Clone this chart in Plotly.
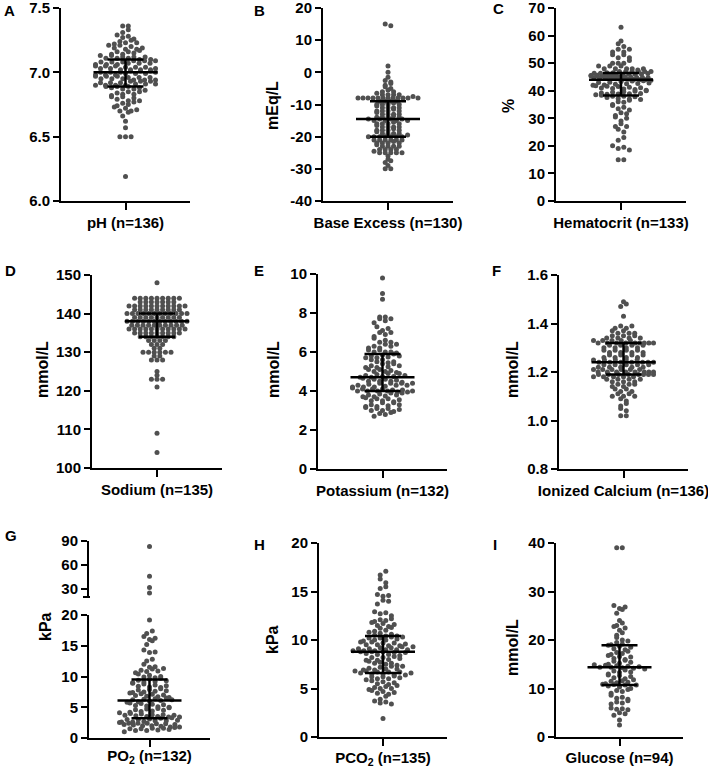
import math
import numpy as np
import plotly.graph_objects as go

W, H = 708, 767

# ---------------- data ----------------
ph_values = [7.36, 7.36, 7.33, 7.31,
             7.29, 7.28, 7.27, 7.26, 7.25,
             7.24, 7.23, 7.23, 7.22, 7.21, 7.21, 7.20,
             7.19, 7.19, 7.18, 7.18, 7.17, 7.16, 7.16, 7.15,
             7.14, 7.14, 7.13, 7.13, 7.12, 7.12, 7.12, 7.11, 7.11, 7.11,
             7.10, 7.10, 7.09, 7.09, 7.09, 7.08, 7.08, 7.08, 7.07, 7.07, 7.07, 7.06, 7.06, 7.06, 7.05, 7.05, 7.05,
             7.04, 7.04, 7.04, 7.03, 7.03, 7.03, 7.02, 7.02, 7.02, 7.02, 7.01, 7.01, 7.01, 7.00, 7.00, 7.00, 7.00,
             6.99, 6.99, 6.99, 6.98, 6.98, 6.98, 6.97, 6.97, 6.97, 6.96, 6.96, 6.96, 6.95, 6.95, 6.95, 6.94, 6.94,
             6.94, 6.93, 6.93, 6.93, 6.92, 6.92, 6.92, 6.91, 6.91, 6.91, 6.90, 6.90, 6.90, 6.90, 6.89, 6.89, 6.89,
             6.88, 6.88, 6.87, 6.87, 6.86, 6.85, 6.85, 6.84, 6.83, 6.83, 6.82, 6.81, 6.81, 6.80,
             6.79, 6.78, 6.78, 6.77, 6.76, 6.75, 6.74, 6.73, 6.72, 6.71, 6.70, 6.70,
             6.69, 6.66, 6.62, 6.57, 6.50, 6.50, 6.50, 6.19]
ph_stats = [6.89, 7.00, 7.10]  # Q1, median, Q3

be_values = [15, 14.5, 2, 0, -1.5, -2.5, -3, -3.5, -4, -4.5, -5, -5.5, -6, -6, -6.5, -7, -7, -7, -7, -7.5,
             -8, -8, -8, -8, -8, -8, -8, -8, -8, -8, -8, -8,
             -9, -9, -9, -9, -9.5, -10, -10, -10, -10, -10.5, -11, -11, -11, -11, -11.5, -12, -12, -12, -12,
             -12.5, -13, -13, -13, -13, -13.5, -14, -14, -14, -14, -14.5, -14.5, -14.5, -14.5,
             -15, -15, -15, -15, -15.5, -16, -16, -16, -16, -16.5, -17, -17, -17, -17, -17.5, -18, -18, -18, -18,
             -18.5, -19, -19, -19, -19, -19.5, -20, -20, -20, -20, -20, -20, -20,
             -21, -21, -21, -21, -21, -21, -21.5, -22, -22, -22, -22, -22.5, -23, -23, -23, -23, -24, -24, -24,
             -24, -24.5, -25, -25, -25, -25, -25, -26, -27, -27.5, -28, -29, -30, -30]
be_stats = [-20.0, -14.5, -9.0]

hct_values = [63, 58, 57, 56, 55, 55, 54, 54, 53, 53, 52, 52, 51, 50, 50, 50, 49, 49, 49, 48, 48, 48, 48, 48,
              47, 47, 47, 47, 47, 47, 47.5, 46.5, 46.5,
              46.3, 46.2, 46.1, 46.0, 45.9, 45.8, 45.7, 45.6, 45.5, 45.4, 45.3, 45.2, 45.1, 45.0, 44.9,
              44.8, 44.7, 44.6, 44.5, 44.4, 44.3, 44.2, 44.1, 44.0, 46.3, 46.0, 45.7, 45.4, 45.1, 44.8,
              44.5, 44.2, 44.0,
              43.8, 43.6, 43.5, 43.3, 43.1, 43.0, 42.8, 42.6, 42.5, 42.3, 42.1, 42.0, 41.8, 41.6, 41.5,
              41.3, 41.1, 41.0, 40.8, 40.6, 40.4, 40.2, 40.0, 39.8, 39.6, 39.4, 39.2, 39.0, 38.9, 38.8,
              38.7, 38.5, 38.4,
              38, 38, 37.8, 37.5, 37, 37.2, 36.8, 36.5, 36, 35.8, 35, 34.6, 34, 33.5, 33, 32, 31.6, 31, 30.5,
              30, 29, 28, 27, 27, 26, 25, 23, 22, 20, 19.5, 19, 18.5, 15, 15]
hct_stats = [38.3, 44.0, 46.4]

na_levels = [148, 144, 143, 142, 141, 140, 139, 138, 137, 136, 135, 134, 133, 132, 131, 130, 129, 128,
             125, 124, 123, 121, 109, 104]
na_counts = [1, 9, 7, 11, 9, 12, 9, 12, 10, 11, 9, 7, 4, 3, 2, 6, 2, 3, 1, 1, 3, 1, 1, 1]
na_stats = [134, 138, 140]

k_values = [9.8, 9.0, 8.7, 7.8, 7.8, 7.7, 7.7, 7.6, 7.5, 7.3, 7.2, 7.1, 7.0, 7.0, 6.9, 6.8, 6.7, 6.6, 6.5,
            6.5, 6.4, 6.4, 6.3, 6.3, 6.2, 6.2, 6.1, 6.1, 6.0, 6.0, 6.0, 5.95, 5.9,
            5.85, 5.8, 5.8, 5.75, 5.7, 5.7, 5.6, 5.6, 5.5, 5.5, 5.45, 5.4, 5.4, 5.3, 5.3, 5.25, 5.2, 5.2,
            5.1, 5.1, 5.05, 5.0, 5.0, 4.95, 4.9, 4.9, 4.85, 4.8, 4.8, 4.75, 4.75, 4.7, 4.7,
            4.65, 4.6, 4.6, 4.55, 4.5, 4.5, 4.5, 4.45, 4.4, 4.4, 4.4, 4.4, 4.35, 4.3, 4.3, 4.3, 4.25, 4.2,
            4.2, 4.2, 4.15, 4.1, 4.1, 4.1, 4.05, 4.05, 4.0, 4.0, 4.0, 4.0, 4.0, 3.95, 3.95,
            3.9, 3.9, 3.85, 3.8, 3.8, 3.75, 3.7, 3.7, 3.65, 3.6, 3.6, 3.55, 3.5, 3.5, 3.45, 3.4, 3.4, 3.3,
            3.3, 3.25, 3.2, 3.2, 3.15, 3.1, 3.1, 3.05, 3.0, 3.0, 2.95, 2.9, 2.85, 2.8, 2.7]
k_stats = [4.0, 4.7, 5.9]

ca_values = [1.49, 1.48, 1.47, 1.43, 1.39, 1.39, 1.38, 1.38, 1.37, 1.37, 1.36, 1.36, 1.36, 1.35, 1.35,
             1.35, 1.34, 1.34, 1.34, 1.34, 1.33, 1.33, 1.33, 1.33, 1.33, 1.32, 1.32, 1.32, 1.32, 1.32,
             1.32, 1.32, 1.32, 1.32,
             1.31, 1.31, 1.31, 1.31, 1.30, 1.30, 1.30, 1.30, 1.29, 1.29, 1.29, 1.29, 1.28, 1.28, 1.28,
             1.28, 1.27, 1.27, 1.27, 1.27, 1.26, 1.26, 1.26, 1.26, 1.25, 1.25, 1.25, 1.25, 1.25, 1.24,
             1.24, 1.24, 1.24, 1.24,
             1.24, 1.24, 1.23, 1.23, 1.23, 1.23, 1.23, 1.22, 1.22, 1.22, 1.22, 1.22, 1.21, 1.21, 1.21,
             1.21, 1.21, 1.21, 1.20, 1.20, 1.20, 1.20, 1.20, 1.20, 1.20, 1.20, 1.19, 1.19, 1.19, 1.19,
             1.19, 1.19, 1.19, 1.19,
             1.18, 1.18, 1.18, 1.18, 1.18, 1.17, 1.17, 1.17, 1.17, 1.16, 1.16, 1.16, 1.15, 1.15, 1.15,
             1.14, 1.14, 1.13, 1.13, 1.12, 1.12, 1.11, 1.11, 1.10, 1.10, 1.10, 1.09, 1.08, 1.07, 1.06,
             1.05, 1.04, 1.02, 1.02]
ca_stats = [1.19, 1.24, 1.32]

po2_values = [83, 46, 32, 25,
              19.2, 17.4, 17.0, 16.5, 16.2, 16.0, 15.8, 15.2, 14.3, 14.0, 13.9, 12.8, 12.5, 12.0, 11.6,
              11.5, 11.3, 11.2, 11.0, 10.9, 10.8, 10.6, 10.4, 10.2, 10.0, 9.9, 9.8, 9.7, 9.6,
              9.4, 9.3, 9.2, 9.1, 9.0, 8.9, 8.8, 8.6, 8.5, 8.4, 8.3, 8.2, 8.0, 7.9, 7.8, 7.7, 7.6, 7.5,
              7.4, 7.3, 7.2, 7.1, 7.0, 6.9, 6.8, 6.7, 6.6, 6.5, 6.4, 6.3, 6.2, 6.2, 6.1,
              6.0, 5.9, 5.8, 5.7, 5.6, 5.5, 5.4, 5.3, 5.2, 5.1, 5.0, 4.9, 4.8, 4.7, 4.6, 4.5, 4.4, 4.3,
              4.2, 4.1, 4.0, 3.9, 3.8, 3.8, 3.7, 3.7, 3.6, 3.5, 3.5, 3.4, 3.4, 3.3, 3.2,
              3.1, 3.0, 3.0, 2.9, 2.8, 2.8, 2.7, 2.6, 2.6, 2.5, 2.4, 2.4, 2.4, 2.3, 2.3, 2.2, 2.2, 2.1,
              2.0, 2.0, 1.9, 1.8, 1.8, 1.7, 1.6, 1.6, 1.5, 1.5, 1.4, 1.3, 1.2, 1.2, 1.0]
po2_stats = [3.2, 6.1, 9.5]

pco2_values = [17.1, 16.7, 16.3, 15.9, 15.5, 15.3, 14.7, 14.6, 14.5, 14.1, 14.0, 13.7, 12.9, 12.8, 12.7,
               12.5, 12.2, 12.1, 12.0, 11.9, 11.8, 11.7, 11.6, 11.5, 11.4, 11.3, 11.2, 11.0, 10.9, 10.8,
               10.7, 10.6, 10.5, 10.4,
               10.4, 10.3, 10.3, 10.2, 10.2, 10.1, 10.0, 10.0, 9.9, 9.8, 9.8, 9.7, 9.7, 9.6, 9.5, 9.5,
               9.4, 9.4, 9.3, 9.3, 9.2, 9.2, 9.1, 9.1, 9.0, 9.0, 9.0, 8.9, 8.9, 8.9, 8.8, 8.8, 8.8,
               8.7, 8.7, 8.6, 8.5, 8.5, 8.4, 8.3, 8.2, 8.2, 8.1, 8.0, 7.9, 7.9, 7.8, 7.7, 7.6, 7.6, 7.5,
               7.4, 7.3, 7.3, 7.2, 7.1, 7.0, 7.0, 6.9, 6.9, 6.8, 6.8, 6.7, 6.7, 6.7, 6.6, 6.6,
               6.5, 6.5, 6.4, 6.4, 6.3, 6.2, 6.2, 6.1, 6.0, 6.0, 5.9, 5.8, 5.7, 5.6, 5.5, 5.4, 5.3, 5.2,
               5.1, 5.0, 5.0, 4.9, 4.8, 4.7, 4.6, 4.5, 4.4, 4.2, 3.9, 3.7, 3.6, 3.5, 3.4, 1.9]
pco2_stats = [6.6, 8.8, 10.4]

glu_values = [39, 39, 27.1, 26.8, 26.5, 26.3, 25.5, 24.0, 23.5, 23.0, 22.8, 22.5, 22.0, 21.5, 21.0, 20.5,
              20.0, 19.8, 19.5, 19.2, 19.0, 18.9, 18.7,
              18.5, 18.2, 18.0, 17.7, 17.4, 17.2, 17.0, 16.8, 16.6, 16.5, 16.2, 16.0, 15.8, 15.6, 15.4,
              15.2, 15.0, 14.9, 14.8, 14.7, 14.6, 14.5, 14.4, 14.4,
              14.3, 14.2, 14.0, 13.8, 13.6, 13.4, 13.3, 13.0, 12.8, 12.7, 12.5, 12.2, 12.0, 11.8, 11.6,
              11.5, 11.3, 11.2, 11.0, 10.9, 10.8, 10.7, 10.7,
              10.5, 10.3, 10.0, 9.8, 9.6, 9.4, 9.0, 8.6, 8.2, 8.0, 7.8, 7.5, 7.2, 7.0, 6.8, 6.0, 5.8,
              5.7, 5.6, 5.0, 4.8, 4.5, 3.5, 2.5]
glu_stats = [10.7, 14.4, 18.9]

x_labels = ["pH (n=136)", "Base Excess (n=130)", "Hematocrit (n=133)",
            "Sodium (n=135)", "Potassium (n=132)", "Ionized Calcium (n=136)",
            "PO<sub>2</sub> (n=132)", "PCO<sub>2</sub> (n=135)", "Glucose (n=94)"]
y_titles = ["", "mEq/L", "%", "mmol/L", "mmol/L", "mmol/L", "kPa", "kPa", "mmol/L"]
panel_letters = ["A", "B", "C", "D", "E", "F", "G", "H", "I"]

na_values = [v for v, c in zip(na_levels, na_counts) for _ in range(c)]

# ---------------- layout spec (pixels) ----------------
FONT = "Liberation Sans, Arial, Helvetica, sans-serif"
DOT = "#505050"
DX = 5.6     # horizontal spacing of dots in a row (px)
CAP = 60.0   # max spread of a row (px)

panels = [
    dict(vals=ph_values, st=ph_stats, box=(61, 190, 8, 201), rng=(6.0, 7.5), rowh=4.5,
         ticks=[6.0, 6.5, 7.0, 7.5], fmt="{:.1f}", yt=(0, 0), let=(2, 10), lso=0),
    dict(vals=be_values, st=be_stats, box=(323, 453, 8, 201), rng=(-40, 20), rowh=3.0,
         ticks=[-40, -30, -20, -10, 0, 10, 20], fmt="{:d}", yt=(272, 106), let=(252, 10), lso=0),
    dict(vals=hct_values, st=hct_stats, box=(556, 686, 8, 201), rng=(0, 70), rowh=4.5,
         ticks=[0, 10, 20, 30, 40, 50, 60, 70], fmt="{:d}", yt=(508, 106), let=(491, 9), lso=0),
    dict(vals=na_values, st=na_stats, box=(92, 222, 275, 468), rng=(100, 150), rowh=3.5,
         ticks=[100, 110, 120, 130, 140, 150], fmt="{:d}", yt=(42, 370), let=(3, 270), lso=0),
    dict(vals=k_values, st=k_stats, box=(318, 447, 274, 469), rng=(0, 10), rowh=4.5,
         ticks=[0, 2, 4, 6, 8, 10], fmt="{:d}", yt=(273, 370), let=(252, 270), lso=0),
    dict(vals=ca_values, st=ca_stats, box=(559, 688, 275, 469), rng=(0.8, 1.6), rowh=4.5,
         ticks=[0.8, 1.0, 1.2, 1.4, 1.6], fmt="{:.1f}", yt=(512, 370), let=(490, 270), lso=0),
    dict(vals=po2_values, st=po2_stats, box=(89, 210, 615, 738), rng=(0, 20), rowh=4.5,
         ticks=[0, 5, 10, 15, 20], fmt="{:d}", yt=(45, 627), let=(3, 535), lso=-4,
         upper=dict(box=(541, 597), rng=(20, 90), ticks=[30, 60, 90])),
    dict(vals=pco2_values, st=pco2_stats, box=(319, 447, 543, 737), rng=(0, 20), rowh=4.5,
         ticks=[0, 5, 10, 15, 20], fmt="{:d}", yt=(272, 640), let=(252, 544), lso=-1),
    dict(vals=glu_values, st=glu_stats, box=(556, 683, 543, 737), rng=(0, 40), rowh=4.5,
         ticks=[0, 10, 20, 30, 40], fmt="{:d}", yt=(512, 648), let=(491, 544), lso=-1),
]


def row_swarm(vals, lo, hi, hpx, rowh):
    """Prism-like scatter: group points into horizontal rows, spread each row about centre."""
    ypx = [(v - lo) / (hi - lo) * hpx for v in vals]
    order = sorted(range(len(vals)), key=lambda i: ypx[i])
    rows, cur = [], []
    for i in order:
        if cur and ypx[i] - ypx[cur[0]] >= rowh:
            rows.append(cur)
            cur = []
        cur.append(i)
    if cur:
        rows.append(cur)
    xs = [0.0] * len(vals)
    for r, row in enumerate(rows):
        n = len(row)
        if n == 1:
            continue
        s = min(DX, CAP / (n - 1))
        slots = [(j - (n - 1) / 2.0) * s for j in range(n)]
        perm = list(range(0, n, 2)) + list(range(1, n, 2))
        if r % 2:
            perm = perm[::-1]
        for idx, j in zip(row, perm):
            xs[idx] = slots[j]
    return xs


def tick_text(v, fmt):
    return fmt.format(int(v)) if fmt == "{:d}" else fmt.format(v)


fig = go.Figure()
layout = dict(width=W, height=H, margin=dict(l=0, r=0, t=0, b=0, autoexpand=False),
              paper_bgcolor="white", plot_bgcolor="white", showlegend=False,
              font=dict(family=FONT, color="black"))
annotations = []
shapes = []
TF = dict(family=FONT, size=15, color="black", weight="bold")
axis_common = dict(showline=True, linecolor="black", linewidth=2, ticks="outside",
                   tickwidth=2, tickcolor="black", showgrid=False, zeroline=False,
                   automargin=False, tickfont=TF, ticklabeloverflow="allow")

for k, p in enumerate(panels, start=1):
    x0, x1, yt, yb = p["box"]
    lo, hi = p["rng"]
    wpx = x1 - x0
    upx = wpx / 2.0  # px per x-unit (range -1..1)
    xn = "x" if k == 1 else f"x{k}"
    yn = "y" if k == 1 else f"y{k}"
    xa = "xaxis" if k == 1 else f"xaxis{k}"
    ya = "yaxis" if k == 1 else f"yaxis{k}"

    vals = p["vals"]
    main_vals = [v for v in vals if v <= hi]
    xs = row_swarm(main_vals, lo, hi, yb - yt, p["rowh"])
    fig.add_trace(go.Scatter(x=[x / upx for x in xs], y=main_vals, mode="markers",
                             marker=dict(size=5, color=DOT, line=dict(width=0)),
                             xaxis=xn, yaxis=yn, cliponaxis=False, hoverinfo="skip"))

    q1, med, q3 = p["st"]
    mh, qh = 32 / upx, 18 / upx
    fig.add_trace(go.Scatter(x=[-mh, mh, None, -qh, qh, None, -qh, qh, None, 0, 0],
                             y=[med, med, None, q3, q3, None, q1, q1, None, q1, q3],
                             mode="lines", line=dict(color="black", width=2.5),
                             xaxis=xn, yaxis=yn, cliponaxis=False, hoverinfo="skip"))

    layout[xa] = dict(axis_common, domain=[x0 / W, x1 / W], range=[-1, 1], anchor=yn,
                      tickvals=[0], ticktext=[x_labels[k - 1]], ticklen=7,
                      ticklabelstandoff=p["lso"])
    layout[ya] = dict(axis_common, domain=[1 - yb / H, 1 - yt / H], range=[lo, hi], anchor=xn,
                      tickvals=p["ticks"], ticktext=[tick_text(t, p["fmt"]) for t in p["ticks"]],
                      ticklen=6)

    if "upper" in p:
        u = p["upper"]
        ut, ub = u["box"]
        ulo, uhi = u["rng"]
        up_vals = [v for v in vals if v > hi]
        uxs = row_swarm(up_vals, ulo, uhi, ub - ut, p["rowh"])
        fig.add_trace(go.Scatter(x=[x / upx for x in uxs], y=up_vals, mode="markers",
                                 marker=dict(size=5, color=DOT, line=dict(width=0)),
                                 xaxis=xn, yaxis="y10", cliponaxis=False, hoverinfo="skip"))
        layout["yaxis10"] = dict(axis_common, domain=[1 - ub / H, 1 - ut / H], range=[ulo, uhi],
                                 anchor=xn, tickvals=u["ticks"], ticktext=[str(t) for t in u["ticks"]],
                                 ticklen=6)
        shapes.append(dict(type="line", xref="paper", yref="paper",
                           x0=(x0 - 6) / W, x1=(x0 + 1) / W, y0=1 - ub / H, y1=1 - ub / H,
                           line=dict(color="black", width=2)))

    if y_titles[k - 1]:
        tx, ty = p["yt"]
        annotations.append(dict(text=y_titles[k - 1], xref="paper", yref="paper",
                                x=tx / W, y=1 - ty / H, xanchor="center", yanchor="middle",
                                textangle=-90, showarrow=False,
                                font=dict(family=FONT, size=16, color="black", weight="bold")))
    lx, ly = p["let"]
    annotations.append(dict(text=panel_letters[k - 1], xref="paper", yref="paper",
                            x=lx / W, y=1 - ly / H, xanchor="left", yanchor="middle",
                            showarrow=False,
                            font=dict(family=FONT, size=15, color="black", weight="bold")))

layout["annotations"] = annotations
layout["shapes"] = shapes
fig.update_layout(**layout)
fig.write_html("out.html", config={"displayModeBar": False},
               post_script="document.body.style.margin='0px';document.body.style.overflow='hidden';")
